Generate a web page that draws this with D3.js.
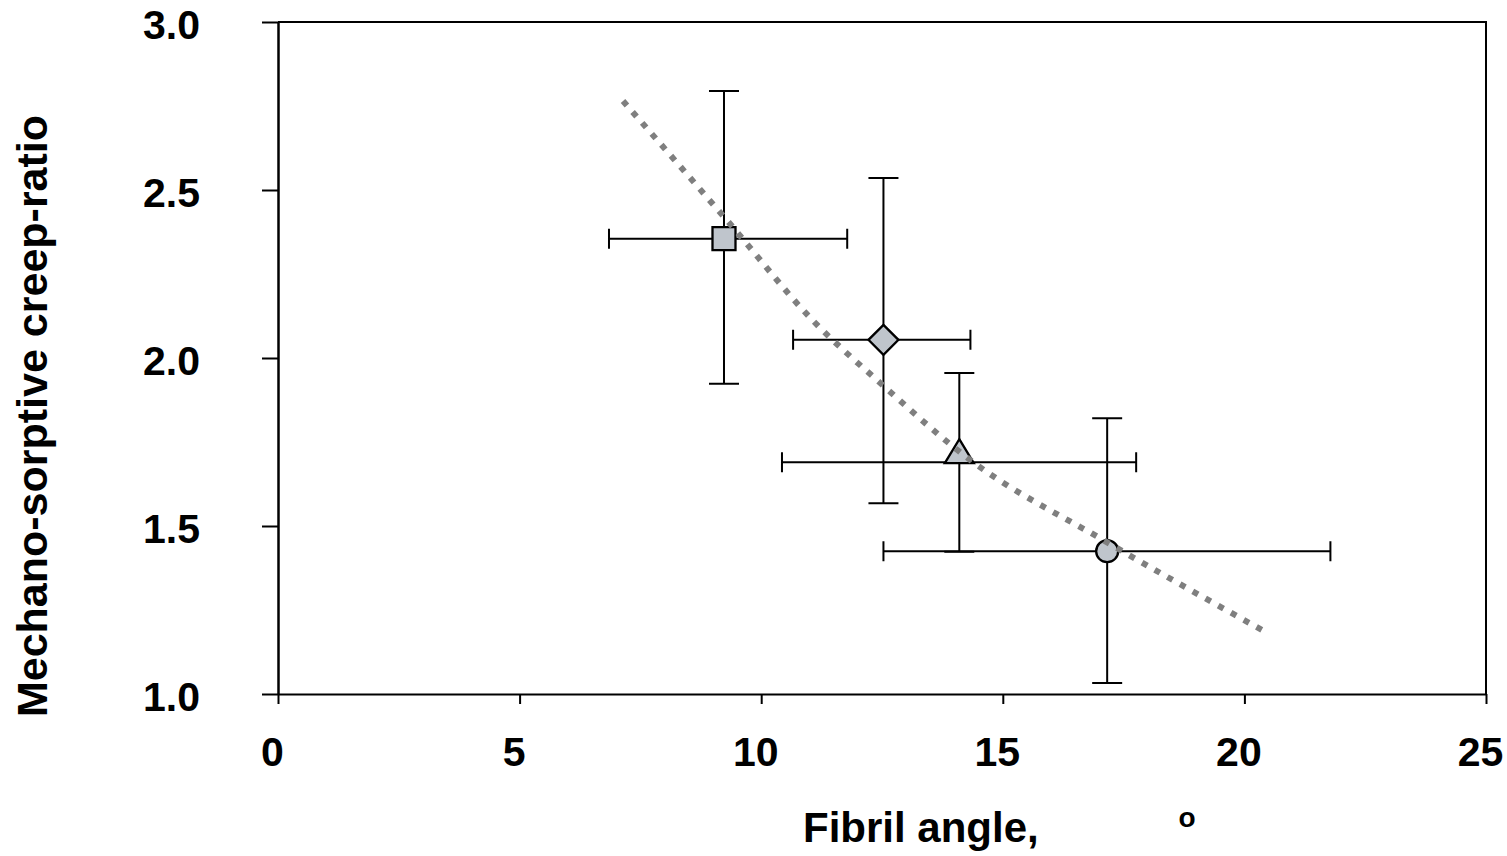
<!DOCTYPE html>
<html>
<head>
<meta charset="utf-8">
<script src="https://cdn.jsdelivr.net/npm/d3@7"></script>
<style>
  html, body { margin: 0; padding: 0; background: #fff; }
  svg text { font-family: "Liberation Sans", Arial, sans-serif; font-weight: bold; fill: #000; }
</style>
</head>
<body>
<svg id="chart" width="1507" height="856"></svg>
<script>
// ---- data ----
const groups     = ["square", "diamond", "triangle", "circle"];
const fibrilAngle = [9.23, 12.53, 14.10, 17.16];
const creepRatio  = [2.355, 2.054, 1.690, 1.425];
const angleLow    = [6.85, 10.66, 10.43, 12.53];
const angleHigh   = [11.78, 14.33, 17.76, 21.78];
const ratioLow    = [1.923, 1.568, 1.423, 1.033];
const ratioHigh   = [2.795, 2.536, 1.955, 1.821];
// trend line
const trendX = [7.14, 9.32, 11.08, 12.46, 14.33, 17.08, 20.37];
const trendY = [2.765, 2.405, 2.11, 1.926, 1.696, 1.458, 1.19];
const xTicks = [0, 5, 10, 15, 20, 25];
const yTicks = [1.0, 1.5, 2.0, 2.5, 3.0];
const xTitle = "Fibril angle,";
const xTitleUnit = "o";
const yTitle = "Mechano-sorptive creep-ratio";

// ---- layout ----
const svg = d3.select("#chart");
const L = 278, R = 1486, T = 22, B = 694;
const x = d3.scaleLinear().domain([0, 25]).range([L, R]);
const y = d3.scaleLinear().domain([1, 3]).range([B, T]);
const markerFill = "#bfc5cc";

// plot border (top and right)
svg.append("path")
  .attr("d", `M${L},${T}H${R}V${B}`)
  .attr("fill", "none").attr("stroke", "#000").attr("stroke-width", 2);

// x axis
const xAxis = svg.append("g").attr("transform", `translate(0,${B})`)
  .call(d3.axisBottom(x).tickValues(xTicks).tickSize(10).tickSizeOuter(0).tickFormat(d3.format("d")));
xAxis.select(".domain").attr("stroke-width", 2).attr("stroke", "#000");
xAxis.selectAll(".tick line").attr("stroke-width", 2).attr("stroke", "#000");
xAxis.selectAll(".tick text")
  .attr("font-size", 41).attr("y", 72).attr("dy", 0).attr("dx", -6)
  .attr("font-family", "Liberation Sans, Arial, sans-serif").attr("font-weight", "bold");

// y axis
const yAxis = svg.append("g").attr("transform", `translate(${L},0)`)
  .call(d3.axisLeft(y).tickValues(yTicks).tickSize(16).tickSizeOuter(0).tickFormat(d3.format(".1f")));
yAxis.select(".domain").attr("stroke-width", 2.5).attr("stroke", "#000");
yAxis.selectAll(".tick line").attr("stroke-width", 2).attr("stroke", "#000");
yAxis.selectAll(".tick text")
  .attr("font-size", 41).attr("x", -78).attr("dy", "0.4em")
  .attr("font-family", "Liberation Sans, Arial, sans-serif").attr("font-weight", "bold");

// axis titles
svg.append("text").attr("x", 803).attr("y", 842).attr("font-size", 42).text(xTitle);
svg.append("text").attr("x", 1187).attr("y", 827).attr("font-size", 28)
  .attr("text-anchor", "middle").text(xTitleUnit);
svg.append("text")
  .attr("transform", "translate(47,416) rotate(-90)")
  .attr("text-anchor", "middle").attr("font-size", 43).text(yTitle);

// error bars
const eb = svg.append("g").attr("stroke", "#000").attr("stroke-width", 2).attr("fill", "none");
groups.forEach((g, i) => {
  const cx = x(fibrilAngle[i]), cy = y(creepRatio[i]);
  const x0 = x(angleLow[i]), x1 = x(angleHigh[i]);
  const y0 = y(ratioLow[i]), y1 = y(ratioHigh[i]);
  eb.append("path").attr("d",
    `M${x0},${cy}H${x1}` +
    `M${x0},${cy - 10}V${cy + 10}M${x1},${cy - 10}V${cy + 10}` +
    `M${cx},${y0}V${y1}` +
    `M${cx - 15},${y0}H${cx + 15}M${cx - 15},${y1}H${cx + 15}`);
});

// markers
const mk = svg.append("g").attr("fill", markerFill).attr("stroke", "#000").attr("stroke-width", 2.3);
groups.forEach((g, i) => {
  const cx = x(fibrilAngle[i]), cy = y(creepRatio[i]);
  let d;
  if (g === "square") d = `M${cx - 11.5},${cy - 11.5}h23v23h-23Z`;
  else if (g === "diamond") d = `M${cx},${cy - 15}L${cx + 15},${cy}L${cx},${cy + 15}L${cx - 15},${cy}Z`;
  else if (g === "triangle") d = `M${cx},${cy - 23}L${cx + 14.5},${cy + 1}L${cx - 14.5},${cy + 1}Z`;
  if (g === "circle") mk.append("circle").attr("cx", cx).attr("cy", cy).attr("r", 11);
  else mk.append("path").attr("d", d);
});

// trend line (dotted)
const trend = trendX.map((v, i) => [v, trendY[i]]);
svg.append("path")
  .datum(trend)
  .attr("d", d3.line().x(d => x(d[0])).y(d => y(d[1])).curve(d3.curveMonotoneX))
  .attr("fill", "none").attr("stroke", "#7f7f7f").attr("stroke-width", 6)
  .attr("stroke-dasharray", "6,8.6");
</script>
</body>
</html>
